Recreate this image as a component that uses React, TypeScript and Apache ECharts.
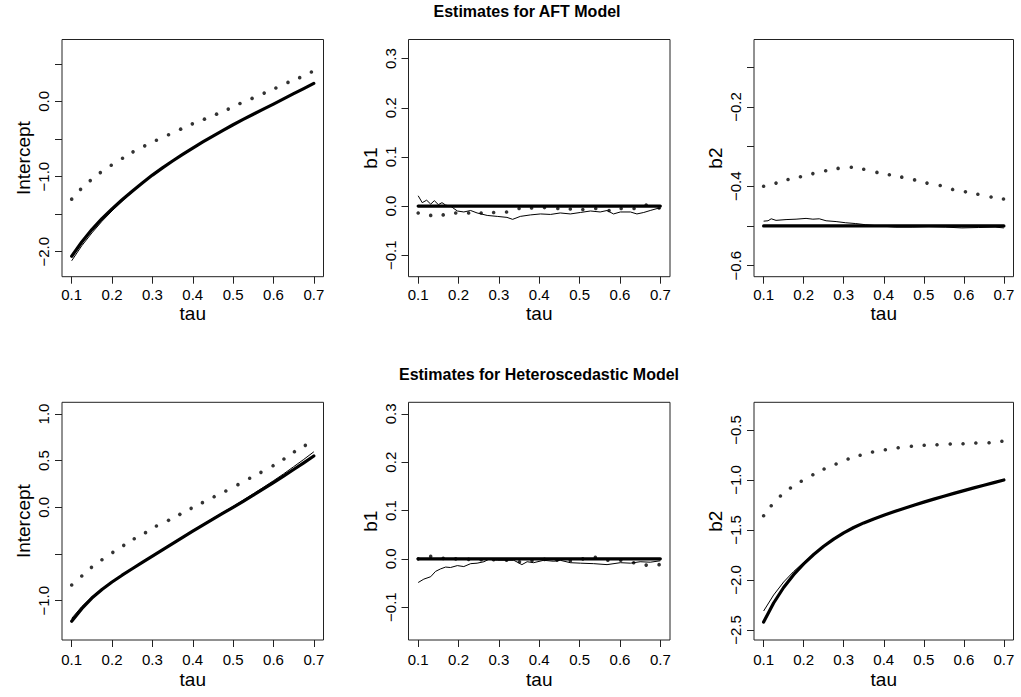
import React, { useEffect, useRef } from "react";
import * as echarts from "echarts";

// ---------- data ----------
const TAU_GRID = [0.1, 0.125, 0.15, 0.175, 0.2, 0.225, 0.25, 0.275, 0.3, 0.325, 0.35, 0.375, 0.4, 0.425, 0.45, 0.475, 0.5, 0.525, 0.55, 0.575, 0.6, 0.625, 0.65, 0.675, 0.7];
const TAU_ENDS = [0.1, 0.7];
const X_TICKS = [0.1, 0.2, 0.3, 0.4, 0.5, 0.6, 0.7];

// AFT model: Intercept
const aftIntTrue = [-2.06, -1.87, -1.705, -1.56, -1.43, -1.308, -1.194, -1.084, -0.98, -0.884, -0.793, -0.705, -0.62, -0.539, -0.461, -0.385, -0.31, -0.239, -0.17, -0.102, -0.035, 0.034, 0.103, 0.171, 0.24];
const aftIntEst = [-2.12, -1.92, -1.75, -1.595, -1.457, -1.328, -1.207, -1.09, -0.983, -0.885, -0.793, -0.705, -0.62, -0.539, -0.461, -0.385, -0.31, -0.239, -0.17, -0.102, -0.035, 0.034, 0.103, 0.171, 0.24];
const aftIntDotTau = [0.1, 0.122, 0.146, 0.171, 0.198, 0.226, 0.252, 0.281, 0.31, 0.34, 0.37, 0.399, 0.429, 0.459, 0.488, 0.517, 0.547, 0.577, 0.606, 0.636, 0.665, 0.694];
const aftIntDot = [-1.3, -1.17, -1.053, -0.947, -0.849, -0.756, -0.671, -0.591, -0.516, -0.444, -0.369, -0.298, -0.236, -0.169, -0.102, -0.027, 0.04, 0.111, 0.178, 0.253, 0.316, 0.391];

// AFT model: b1
const aftB1True = [0, 0];
const aftB1EstTau = [0.1, 0.11, 0.121, 0.131, 0.14, 0.15, 0.159, 0.168, 0.18, 0.197, 0.213, 0.23, 0.246, 0.271, 0.296, 0.32, 0.334, 0.353, 0.378, 0.403, 0.428, 0.452, 0.477, 0.502, 0.527, 0.551, 0.568, 0.584, 0.601, 0.626, 0.642, 0.659, 0.675, 0.692, 0.7];
const aftB1Est = [0.021, 0.007, 0.012, 0.004, 0.011, 0.003, 0.007, 0.002, 0.0, -0.01, -0.012, -0.009, -0.014, -0.019, -0.021, -0.023, -0.027, -0.021, -0.018, -0.016, -0.017, -0.014, -0.016, -0.013, -0.01, -0.012, -0.009, -0.016, -0.012, -0.012, -0.016, -0.013, -0.009, -0.005, -0.005];
const aftB1DotTau = [0.1, 0.131, 0.162, 0.193, 0.225, 0.256, 0.287, 0.319, 0.35, 0.381, 0.413, 0.446, 0.477, 0.508, 0.54, 0.573, 0.603, 0.635, 0.665, 0.697];
const aftB1Dot = [-0.014, -0.019, -0.018, -0.014, -0.014, -0.014, -0.013, -0.012, -0.005, -0.004, -0.003, -0.005, -0.006, -0.007, -0.005, -0.009, -0.005, -0.005, 0.002, -0.004];

// AFT model: b2
const aftB2True = [-0.5, -0.5];
const aftB2EstTau = [0.1, 0.111, 0.119, 0.131, 0.156, 0.181, 0.206, 0.223, 0.239, 0.256, 0.281, 0.305, 0.33, 0.355, 0.388, 0.43, 0.471, 0.513, 0.554, 0.595, 0.637, 0.678, 0.7];
const aftB2Est = [-0.488, -0.487, -0.482, -0.486, -0.484, -0.483, -0.481, -0.483, -0.482, -0.487, -0.489, -0.492, -0.494, -0.497, -0.5, -0.503, -0.503, -0.502, -0.503, -0.505, -0.504, -0.503, -0.505];
const aftB2DotTau = [0.1, 0.131, 0.161, 0.192, 0.223, 0.255, 0.286, 0.319, 0.35, 0.383, 0.414, 0.445, 0.477, 0.508, 0.541, 0.572, 0.604, 0.635, 0.668, 0.699];
const aftB2Dot = [-0.4, -0.392, -0.383, -0.376, -0.368, -0.361, -0.355, -0.352, -0.357, -0.365, -0.371, -0.377, -0.384, -0.392, -0.398, -0.408, -0.414, -0.42, -0.427, -0.432];

// Heteroscedastic model: Intercept
const hetIntTrue = [-1.22, -1.085, -0.972, -0.88, -0.8, -0.727, -0.658, -0.59, -0.523, -0.456, -0.389, -0.322, -0.256, -0.191, -0.127, -0.063, 0.0, 0.065, 0.13, 0.197, 0.265, 0.335, 0.405, 0.477, 0.55];
const hetIntEst = [-1.19, -1.063, -0.96, -0.874, -0.795, -0.722, -0.653, -0.585, -0.518, -0.451, -0.384, -0.317, -0.25, -0.184, -0.118, -0.054, 0.01, 0.077, 0.145, 0.214, 0.285, 0.358, 0.435, 0.513, 0.595];
const hetIntDotTau = [0.1, 0.125, 0.149, 0.175, 0.202, 0.229, 0.255, 0.283, 0.31, 0.34, 0.368, 0.396, 0.424, 0.453, 0.482, 0.512, 0.541, 0.569, 0.599, 0.626, 0.652, 0.679];
const hetIntDot = [-0.832, -0.736, -0.643, -0.561, -0.482, -0.407, -0.336, -0.271, -0.2, -0.139, -0.075, -0.011, 0.05, 0.114, 0.175, 0.243, 0.311, 0.375, 0.446, 0.518, 0.596, 0.664];

// Heteroscedastic model: b1
const hetB1True = [0, 0];
const hetB1EstTau = [0.1, 0.114, 0.131, 0.143, 0.155, 0.168, 0.18, 0.197, 0.213, 0.23, 0.246, 0.263, 0.275, 0.296, 0.32, 0.337, 0.357, 0.37, 0.386, 0.411, 0.436, 0.452, 0.477, 0.502, 0.535, 0.568, 0.601, 0.626, 0.65, 0.675, 0.7];
const hetB1Est = [-0.049, -0.042, -0.037, -0.026, -0.021, -0.017, -0.018, -0.014, -0.016, -0.01, -0.009, -0.006, -0.001, -0.003, -0.003, -0.003, -0.012, -0.006, -0.008, -0.003, -0.005, -0.003, -0.008, -0.009, -0.01, -0.012, -0.008, -0.009, -0.006, -0.007, -0.004];
const hetB1DotTau = [0.1, 0.131, 0.162, 0.193, 0.225, 0.256, 0.287, 0.319, 0.351, 0.382, 0.413, 0.444, 0.477, 0.508, 0.539, 0.57, 0.602, 0.634, 0.665, 0.697];
const hetB1Dot = [0.0, 0.005, 0.001, 0.0, -0.001, -0.002, -0.002, -0.003, -0.006, -0.004, -0.001, -0.003, -0.004, 0.0, 0.003, -0.003, -0.003, -0.008, -0.013, -0.012];

// Heteroscedastic model: b2
const hetB2True = [-2.42, -2.23, -2.075, -1.947, -1.839, -1.745, -1.663, -1.591, -1.528, -1.475, -1.429, -1.389, -1.353, -1.318, -1.284, -1.252, -1.221, -1.191, -1.162, -1.134, -1.106, -1.079, -1.052, -1.026, -1.0];
const hetB2Est = [-2.31, -2.15, -2.02, -1.915, -1.825, -1.742, -1.663, -1.591, -1.528, -1.475, -1.429, -1.389, -1.353, -1.318, -1.284, -1.252, -1.221, -1.191, -1.162, -1.134, -1.106, -1.079, -1.052, -1.026, -1.0];
const hetB2DotTau = [0.1, 0.119, 0.142, 0.167, 0.194, 0.223, 0.251, 0.281, 0.311, 0.341, 0.372, 0.404, 0.436, 0.469, 0.501, 0.533, 0.566, 0.598, 0.63, 0.663, 0.695];
const hetB2Dot = [-1.357, -1.257, -1.16, -1.08, -1.013, -0.947, -0.89, -0.84, -0.79, -0.753, -0.72, -0.697, -0.677, -0.663, -0.653, -0.647, -0.64, -0.637, -0.63, -0.627, -0.613];

// tick values
const intAftTicks = [-2, -1.5, -1, -0.5, 0, 0.5];
const intAftLabels = [-2, -1, 0];
const b1Ticks = [-0.1, 0, 0.1, 0.2, 0.3];
const b2AftTicks = [-0.6, -0.5, -0.4, -0.3, -0.2, -0.1];
const b2AftLabels = [-0.6, -0.4, -0.2];
const intHetTicks = [-1, -0.5, 0, 0.5, 1];
const intHetLabels = [-1, 0, 0.5, 1];
const b2HetTicks = [-2.5, -2, -1.5, -1, -0.5];

const TITLES = ["Estimates for AFT Model", "Estimates for Heteroscedastic Model"];

// ---------- helpers ----------
const zip = (xs: number[], ys: number[]) => xs.map((x, i) => [x, ys[i]]);
const fmt = (v: number) => (v < 0 ? "\u2212" : "") + Math.abs(v).toFixed(1);
const FONT = "Liberation Sans, Arial, Helvetica, sans-serif";

type Panel = {
  left: number; top: number; width: number; height: number;
  ymin: number; ymax: number; yTicks: number[]; yLabels: number[]; yName: string;
  trueTau: number[]; trueVal: number[]; estTau: number[]; estVal: number[];
  dotTau: number[]; dotVal: number[]; row: number;
};

const panels: Panel[] = [
  { left: 62, top: 39.5, width: 261.5, height: 237.2, ymin: -2.332, ymax: 0.824, yTicks: intAftTicks, yLabels: intAftLabels, yName: "Intercept",
    trueTau: TAU_GRID, trueVal: aftIntTrue, estTau: TAU_GRID, estVal: aftIntEst, dotTau: aftIntDotTau, dotVal: aftIntDot, row: 0 },
  { left: 408.5, top: 39.5, width: 261.5, height: 237.2, ymin: -0.1437, ymax: 0.339, yTicks: b1Ticks, yLabels: b1Ticks, yName: "b1",
    trueTau: TAU_ENDS, trueVal: aftB1True, estTau: aftB1EstTau, estVal: aftB1Est, dotTau: aftB1DotTau, dotVal: aftB1Dot, row: 0 },
  { left: 754, top: 39.5, width: 259.5, height: 237.2, ymin: -0.628, ymax: -0.03, yTicks: b2AftTicks, yLabels: b2AftLabels, yName: "b2",
    trueTau: TAU_ENDS, trueVal: aftB2True, estTau: aftB2EstTau, estVal: aftB2Est, dotTau: aftB2DotTau, dotVal: aftB2Dot, row: 0 },
  { left: 62, top: 402.3, width: 261.5, height: 237.7, ymin: -1.421, ymax: 1.125, yTicks: intHetTicks, yLabels: intHetLabels, yName: "Intercept",
    trueTau: TAU_GRID, trueVal: hetIntTrue, estTau: TAU_GRID, estVal: hetIntEst, dotTau: hetIntDotTau, dotVal: hetIntDot, row: 1 },
  { left: 408.5, top: 402.3, width: 261.5, height: 237.7, ymin: -0.168, ymax: 0.324, yTicks: b1Ticks, yLabels: b1Ticks, yName: "b1",
    trueTau: TAU_ENDS, trueVal: hetB1True, estTau: hetB1EstTau, estVal: hetB1Est, dotTau: hetB1DotTau, dotVal: hetB1Dot, row: 1 },
  { left: 754, top: 402.3, width: 259.5, height: 237.7, ymin: -2.6, ymax: -0.223, yTicks: b2HetTicks, yLabels: b2HetTicks, yName: "b2",
    trueTau: TAU_GRID, trueVal: hetB2True, estTau: TAU_GRID, estVal: hetB2Est, dotTau: hetB2DotTau, dotVal: hetB2Dot, row: 1 },
];

export default function App() {
  const ref = useRef<HTMLDivElement>(null);
  useEffect(() => {
    if (!ref.current) return;
    const chart = echarts.init(ref.current, undefined, { renderer: "svg" });
    const grid = panels.map((p) => ({
      left: p.left, top: p.top, width: p.width, height: p.height,
      show: true, borderColor: "#222", borderWidth: 1, backgroundColor: "transparent", containLabel: false,
    }));
    const xAxis = panels.map((p, i) => ({
      type: "value", gridIndex: i, min: 0.076, max: 0.724, position: "bottom",
      name: "tau", nameLocation: "middle", nameGap: p.row === 0 ? 27 : 30,
      nameTextStyle: { fontFamily: FONT, fontSize: 19, color: "#000" },
      axisLine: { show: false, onZero: false },
      splitLine: { show: false },
      axisTick: { show: true, inside: false, length: 7, lineStyle: { color: "#222", width: 1 }, customValues: X_TICKS },
      axisLabel: { show: true, margin: p.row === 0 ? 10 : 12, fontFamily: FONT, fontSize: 15, color: "#000",
        customValues: X_TICKS, formatter: (v: number) => v.toFixed(1) },
    }));
    const yAxis = panels.map((p, i) => ({
      type: "value", gridIndex: i, min: p.ymin, max: p.ymax, position: "left",
      name: p.yName, nameLocation: "middle", nameGap: 29,
      nameTextStyle: { fontFamily: FONT, fontSize: 19, color: "#000" },
      axisLine: { show: false, onZero: false },
      splitLine: { show: false },
      axisTick: { show: true, inside: false, length: 7, lineStyle: { color: "#222", width: 1 }, customValues: p.yTicks },
      axisLabel: { show: true, rotate: 90, margin: 11, fontFamily: FONT, fontSize: 15, color: "#000",
        customValues: p.yLabels, formatter: (v: number) => fmt(v) },
    }));
    const series: any[] = [];
    panels.forEach((p, i) => {
      series.push({
        type: "line", xAxisIndex: i, yAxisIndex: i, data: zip(p.trueTau, p.trueVal),
        showSymbol: false, smooth: false, lineStyle: { color: "#000", width: 3.2, join: "round", cap: "round" }, silent: true,
      });
      series.push({
        type: "line", xAxisIndex: i, yAxisIndex: i, data: zip(p.estTau, p.estVal),
        showSymbol: false, smooth: false, lineStyle: { color: "#000", width: 1 }, silent: true,
      });
      series.push({
        type: "scatter", xAxisIndex: i, yAxisIndex: i, data: zip(p.dotTau, p.dotVal),
        symbol: "circle", symbolSize: 3.6, itemStyle: { color: "#000" }, silent: true,
      });
    });
    chart.setOption({
      animation: false,
      backgroundColor: "#fff",
      title: [
        { text: TITLES[0], left: 527, top: 3, textAlign: "center", padding: 0,
          textStyle: { fontFamily: FONT, fontSize: 16, fontWeight: "bold", color: "#000" } },
        { text: TITLES[1], left: 539, top: 366, textAlign: "center", padding: 0,
          textStyle: { fontFamily: FONT, fontSize: 16, fontWeight: "bold", color: "#000" } },
      ],
      grid, xAxis, yAxis, series,
    });
    return () => chart.dispose();
  }, []);
  return (
    <div
      ref={ref}
      style={{ position: "absolute", left: 0, top: 0, width: 1021, height: 697, background: "#fff" }}
    />
  );
}
